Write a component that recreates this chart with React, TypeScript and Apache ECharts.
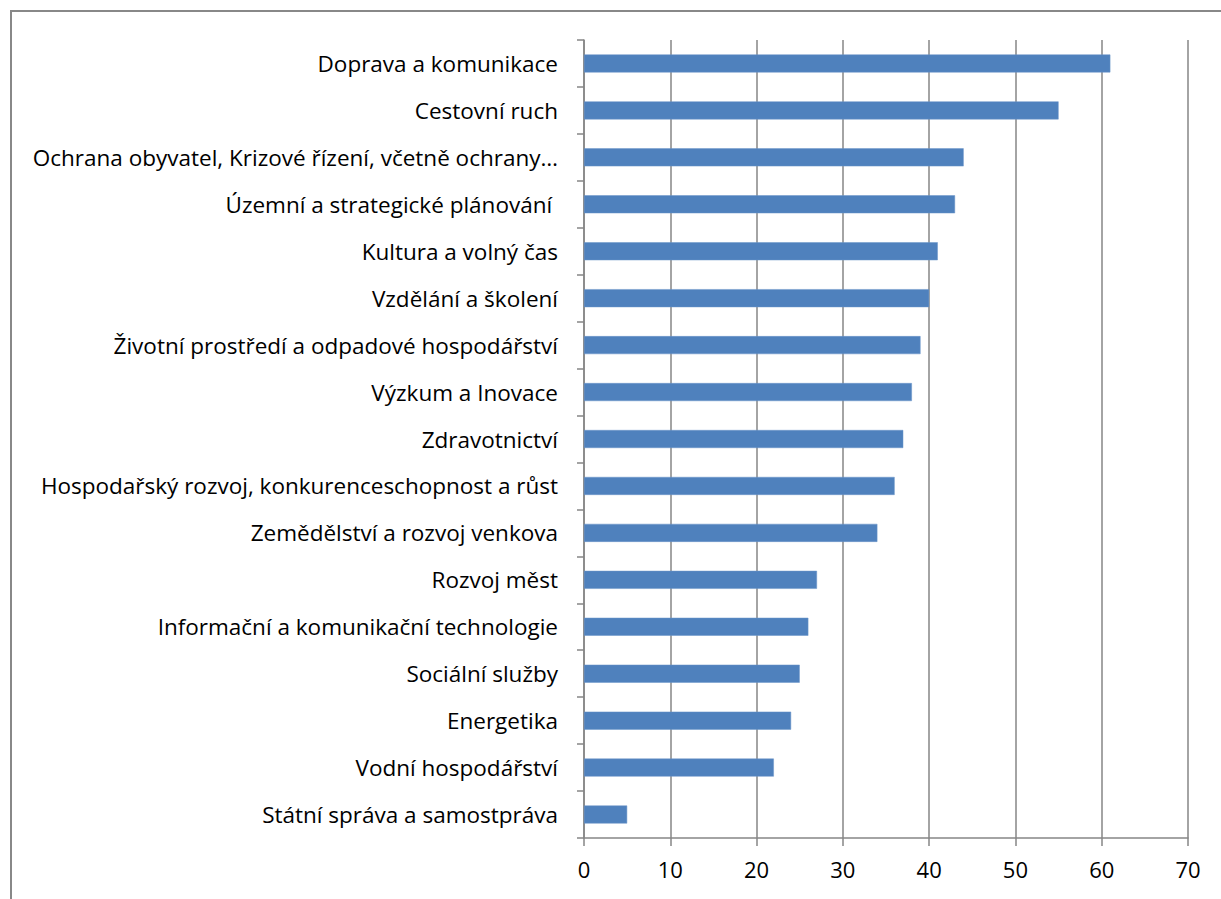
import React, { useEffect, useRef } from "react";
import * as echarts from "echarts";

const categories = [
  "Doprava a komunikace",
  "Cestovní ruch",
  "Ochrana obyvatel, Krizové řízení, včetně ochrany…",
  "Územní a strategické plánování ",
  "Kultura a volný čas",
  "Vzdělání a školení",
  "Životní prostředí a odpadové hospodářství",
  "Výzkum a Inovace",
  "Zdravotnictví",
  "Hospodařský rozvoj, konkurenceschopnost a růst",
  "Zemědělství a rozvoj venkova",
  "Rozvoj měst",
  "Informační a komunikační technologie",
  "Sociální služby",
  "Energetika",
  "Vodní hospodářství",
  "Státní správa a samostpráva",
];
const values = [61, 55, 44, 43, 41, 40, 39, 38, 37, 36, 34, 27, 26, 25, 24, 22, 5];
const xMin = 0;
const xMax = 70;
const xInterval = 10;

export default function App() {
  const ref = useRef<HTMLDivElement>(null);
  useEffect(() => {
    if (!ref.current) return;
    const chart = echarts.init(ref.current, null, { renderer: "svg" });
    const font = "'Open Sans', sans-serif";
    chart.setOption({
      animation: false,
      backgroundColor: "#ffffff",
      grid: { left: 584, right: 33, top: 40, bottom: 61, containLabel: false },
      xAxis: {
        type: "value",
        min: xMin,
        max: xMax,
        interval: xInterval,
        axisLine: { show: true, lineStyle: { color: "#868686", width: 1.5 } },
        axisTick: { show: true, length: 8, lineStyle: { color: "#868686", width: 1.5 } },
        splitLine: { show: true, lineStyle: { color: "#868686", width: 1.5 } },
        axisLabel: { color: "#000", fontSize: 22, fontFamily: font, margin: 20 },
      },
      yAxis: {
        type: "category",
        inverse: true,
        data: categories,
        axisLine: { show: true, lineStyle: { color: "#868686", width: 1.5 } },
        axisTick: { show: true, length: 7, lineStyle: { color: "#868686", width: 1.5 } },
        axisLabel: { color: "#000", fontSize: 22.5, fontFamily: font, margin: 26 },
      },
      series: [
        {
          type: "bar",
          data: values,
          barWidth: 18,
          itemStyle: { color: "#4F81BD", borderColor: "#6a95c9", borderWidth: 0.5 },
        },
      ],
      graphic: [
        { type: "line", shape: { x1: 11, y1: 11, x2: 1221, y2: 11 }, style: { stroke: "#888888", lineWidth: 2 } },
        { type: "line", shape: { x1: 11, y1: 10, x2: 11, y2: 899 }, style: { stroke: "#888888", lineWidth: 2 } },
      ],
    });
    return () => chart.dispose();
  }, []);
  return (
    <div
      ref={ref}
      style={{ position: "fixed", left: 0, top: 0, width: 1221, height: 899 }}
    />
  );
}
